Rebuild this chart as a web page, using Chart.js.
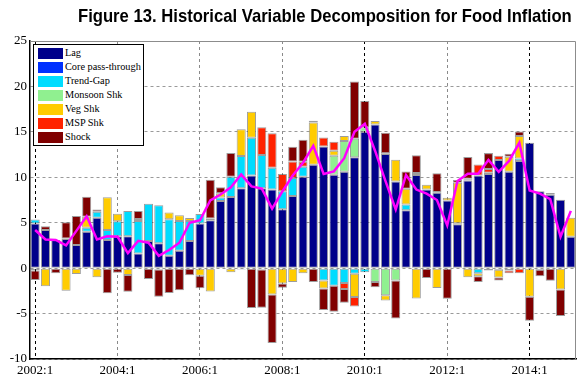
<!DOCTYPE html>
<html>
<head>
<meta charset="utf-8">
<script src="https://cdn.jsdelivr.net/npm/chart.js@4.4.0/dist/chart.umd.min.js"></script>
<style>
  html, body { margin: 0; padding: 0; background: #fff; }
  #wrap { position: relative; width: 587px; height: 385px; }
  #title { position: absolute; top: 5px; left: 78px; white-space: nowrap; font: bold 19px "Liberation Sans", Arial, sans-serif; transform-origin: 0 0; }
  #legend { position: absolute; left: 33px; top: 44px; width: 109px; height: 100px; border: 1px solid #000; background: #fff; font: 10.3px "Liberation Serif", "Times New Roman", serif; }
  .item { position: absolute; left: 0; height: 14px; }
  .sw { position: absolute; left: 4px; top: 1.5px; width: 25px; height: 11px; }
  .lbl { position: absolute; left: 31px; top: 0; line-height: 14px; white-space: nowrap; }
</style>
</head>
<body>
<div id="wrap">
  <canvas id="chart" width="587" height="385"></canvas>
  <div id="title">Figure 13. Historical Variable Decomposition for Food Inflation</div>
  <div id="legend"></div>
</div>
<script>
// quarters 2002:1 .. 2015:1
const quarters = [];
for (let y = 2002; y <= 2015; y++) {
  for (let q = 1; q <= 4; q++) {
    if (y === 2015 && q > 1) break;
    quarters.push(y + ":" + q);
  }
}

const seriesNames = ["Lag", "Core pass-through", "Trend-Gap", "Monsoon Shk", "Veg Shk", "MSP Shk", "Shock"];
const seriesColors = ["#00008a", "#0030ff", "#00dcff", "#90f090", "#ffcc00", "#ff2200", "#800000"];

const lag = [4.9, 4.2, 3.1, 3.2, 2.55, 4.0, 5.55, 3.1, 3.5, 3.5,
  1.62, 2.98, 2.73, 1.37, 1.92, 2.98, 4.9, 5.27, 7.38, 7.82,
  8.8, 10.2, 8.8, 8.65, 6.47, 7.93, 10.07, 11.38, 13.38, 10.29,
  10.6, 12.2, 15.0, 15.8, 12.55, 9.53, 6.36, 10.25, 8.65, 8.3,
  7.45, 4.82, 9.64, 10.2, 10.36, 11.9, 10.6, 11.8, 13.8, 8.47,
  8.07, 7.53, 3.45];
const core = [0, 0, 0, 0, 0, 0, 0, 0, 0, 0,
  0, 0, 0, 0, 0, 0, 0, 0, 0, 0,
  0, 0, 0, 0, 0, 0, 0, 0, 0, 0,
  0, 0, 0, 0, 0, 0, 0, 0, 0, 0,
  0, 0, 0.1, 0, 0, 0, 0, 0, 0, 0,
  0, 0, 0];
const trendGap = [0.45, 0, 0, 0.05, 0, 0.45, 0.65, 1.1, 1.65, 2.8,
  3.58, 4.1, 4.2, 4.0, 3.28, 2.2, 1.05, 0.2, 0.4, 2.25,
  3.55, 4.15, 3.65, 2.4, 2.0, 2.0, 1.1, 0, -1.35, -1.93,
  -1.64, -0.62, -0.44, 0, 0.1, 0, 0.64, 0.22, 0, 0.07,
  0, 0.12, 0.1, -0.55, -0.25, -0.18, -0.25, 0.27, 0, 0,
  0, 0, 0];
const monsoon = [0, 0, 0, 0, 0, 0, 0, 0, 0, 0,
  0, 0, 0, 0, 0, 0, 0, 0, 0, 0,
  0, 0, 0, 0, 0, 0, 0, 0, 0, 2.07,
  3.4, 2.05, 0.5, -1.53, -2.98, -1.35, 0, 0, 0, 0,
  0, 0, 0, 0, 0, 0, 0, 0, 0, 0,
  0, 0, 0];
const veg = [-0.25, -2.0, 0, -2.5, -0.65, 1.2, -1.0, 3.6, 0.85, -0.75,
  0.2, 0, -0.15, 0.75, 0.62, 0.35, -0.85, -2.58, 0.47, -0.44,
  2.95, 2.85, -0.15, -2.9, -1.7, -1.53, -0.55, 4.65, -0.9, 0.55,
  0.55, -2.55, 0, 0.4, -0.58, 2.4, 1.73, -3.35, 0.52, -2.18,
  0.3, 4.45, -1.0, -0.35, 0.15, -0.84, 1.65, 2.48, -3.16, -0.18,
  0.2, -2.36, 2.1];
const msp = [0, 0, 0, 0, 0, 0, 0, 0, 0, 0,
  0, 0, 0, 0, 0, 0, 0, 0, 0, 0,
  0, 0, 3.05, 3.8, 1.9, 1.82, 0.55, 0.2, 1.0, 1.0,
  -0.65, -1.05, 0, 0, 0, 0, 0, 0, 0, 0,
  0, 0, 0, 1.2, 0.4, 0.47, -0.3, -0.55, 0, 0,
  0, 0, 0];
const shock = [-1.05, 0.4, -0.55, 1.8, 3.2, 2.2, 0.25, -2.75, -0.5, -1.85,
  0.88, -1.2, -3.0, -2.73, -2.44, -0.78, -1.35, 4.25, 0.65, 2.6,
  -0.15, -4.4, -4.2, -5.35, -0.45, 1.6, 2.4, -1.53, -2.37, -2.87,
  -1.53, 6.3, 2.9, -0.58, 2.25, -4.2, 1.92, 1.95, -1.09, 2.07,
  -3.38, 0.3, 2.4, -0.63, 1.75, -0.33, 0.35, 0.5, -2.64, -0.72,
  -1.38, -2.91, 0];
const actual = [4.2, 3.15, 3.1, 2.5, 4.1, 5.7, 3.15, 3.5, 3.45, 1.65,
  3.0, 2.8, 1.35, 2.0, 2.8, 5.0, 5.27, 7.45, 8.1, 8.9,
  10.3, 9.0, 8.75, 6.55, 8.45, 10.2, 11.6, 13.45, 10.36, 10.65,
  12.1, 15.0, 15.9, 12.9, 9.6, 6.45, 10.25, 8.65, 8.2, 7.5,
  4.7, 9.6, 10.4, 10.4, 11.9, 10.6, 11.8, 13.8, 8.55, 8.2,
  7.6, 3.45, 6.3];

const yTicks = [-10, -5, 0, 5, 10, 15, 20, 25];
const seriesData = [lag, core, trendGap, monsoon, veg, msp, shock];

// legend box (inside the plot, top left)
const legend = document.getElementById("legend");
seriesNames.forEach((name, i) => {
  const item = document.createElement("div");
  item.className = "item";
  item.style.top = (1 + i * 14) + "px";
  item.innerHTML = '<span class="sw" style="background:' + seriesColors[i] + '"></span><span class="lbl">' + name + '</span>';
  legend.appendChild(item);
});

// squeeze the title to the narrow width it has in the figure
const title = document.getElementById("title");
title.style.transform = "scaleX(" + (494 / title.offsetWidth) + ")";

const frame = {
  id: "frame",
  afterDraw(chart) {
    const { ctx, chartArea: a } = chart;
    ctx.save();
    ctx.strokeStyle = "#8c8c8c";
    ctx.lineWidth = 1;
    ctx.beginPath();
    ctx.moveTo(a.left, a.top + 0.5);
    ctx.lineTo(a.right - 0.5, a.top + 0.5);
    ctx.lineTo(a.right - 0.5, a.bottom);
    ctx.stroke();
    ctx.restore();
  }
};

const barSets = seriesNames.map((name, i) => ({
  type: "bar",
  label: name,
  data: seriesData[i],
  backgroundColor: seriesColors[i],
  borderColor: "rgba(60,60,60,0.5)",
  borderWidth: 1,
  borderSkipped: false,
  stack: "parts",
  categoryPercentage: 1,
  barPercentage: 0.88
}));

const serif = "'Liberation Serif', 'Times New Roman', serif";

new Chart(document.getElementById("chart"), {
  data: {
    labels: quarters,
    datasets: [
      ...barSets,
      {
        type: "line",
        label: "Food inflation",
        data: actual,
        borderColor: "#ff00ff",
        borderWidth: 2.5,
        pointRadius: 0,
        tension: 0,
        stack: "actual",
        order: -1
      }
    ]
  },
  options: {
    responsive: false,
    animation: false,
    devicePixelRatio: 1,
    layout: { padding: { left: 0, right: 11, top: 41, bottom: 0 } },
    plugins: {
      legend: { display: false },
      tooltip: { enabled: false },
      title: { display: false }
    },
    scales: {
      x: {
        stacked: true,
        offset: true,
        grid: {
          offset: false,
          drawTicks: false,
          lineWidth: 1,
          color: (c) => {
            if (c.index % 8 !== 0) return "rgba(0,0,0,0)";
            return (c.index === 0 || c.index === 32 || c.index === 48) ? "#000" : "#8a8a8a";
          }
        },
        border: { display: true, color: "#000", width: 1.5, dash: [3, 3] },
        ticks: {
          autoSkip: false,
          maxRotation: 0,
          padding: 4,
          color: "#000",
          font: { family: serif, size: 13 },
          callback: function (v, i) { return i % 8 === 0 ? quarters[i] : ""; }
        },
        afterFit: (s) => { s.height = 26; }
      },
      y: {
        stacked: true,
        min: yTicks[0],
        max: yTicks[yTicks.length - 1],
        afterBuildTicks: (s) => { s.ticks = yTicks.map(v => ({ value: v })); },
        grid: { drawTicks: false, color: "#9a9a9a", lineWidth: 1 },
        border: { display: true, color: "#000", width: 1.5, dash: [3, 3] },
        ticks: {
          padding: 3,
          color: "#000",
          font: { family: serif, size: 13 }
        },
        afterFit: (s) => { s.width = 30; }
      }
    }
  },
  plugins: [frame]
});
</script>
</body>
</html>
